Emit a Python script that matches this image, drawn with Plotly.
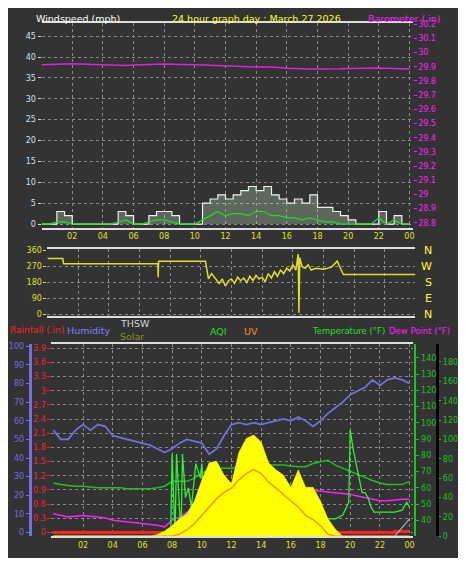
import plotly.graph_objects as go

# page body has an 8px margin; figure is sized to fit the 466x566 window
OFF = 8
W, H = 466 - 2 * OFF, 566 - 2 * OFF
def px(x): return (x - OFF) / W
def py(y): return 1 - (y - OFF) / H

hours = [i / 2 for i in range(49)]
hour_ticks = [2, 4, 6, 8, 10, 12, 14, 16, 18, 20, 22, 24]
hour_labels = ["02", "04", "06", "08", "10", "12", "14", "16", "18", "20", "22", "00"]

# --- top panel ---
wind_gust = [0, 0, 3, 2, 0, 0, 0, 0, 0, 0, 3, 2, 0, 0, 2, 3, 3, 2, 0, 0, 0, 5, 6, 7, 6, 7, 8, 9, 8, 9,
             7, 6, 5, 6, 5, 7, 4, 4, 3, 2, 1, 0, 0, 0, 3, 0, 2, 0, 0]
wind_avg = [0, 0, 0.5, 0.5, 0, 0, 0, 0, 0, 0, 0.5, 1, 0, 0, 0.5, 1, 1, 0.5, 0, 0, 0, 1, 2, 3, 2, 2.5, 2.5, 2, 3, 3,
            2, 2, 1.5, 1.5, 1, 1.5, 1, 0.5, 0.5, 0, 0, 0, 0, 0, 1.5, 0, 1, 0, 0]
barometer = [29.915, 29.917, 29.92, 29.92, 29.922, 29.92, 29.918, 29.915, 29.912, 29.91, 29.908, 29.91, 29.912,
             29.915, 29.918, 29.92, 29.92, 29.918, 29.918, 29.917, 29.915, 29.912, 29.91, 29.908, 29.905,
             29.902, 29.9, 29.898, 29.898, 29.9, 29.9, 29.895, 29.89, 29.887, 29.885, 29.885, 29.885, 29.884,
             29.885, 29.886, 29.888, 29.89, 29.892, 29.893, 29.892, 29.89, 29.888, 29.886, 29.885]

# --- direction panel ---
dir_hours = [0, 1, 1.05, 7.2, 7.22, 7.25, 10.3, 10.5, 10.7, 11, 11.2, 11.4, 11.6, 11.8, 12, 12.2, 12.4, 12.6,
             12.8, 13, 13.2, 13.4, 13.6, 13.8, 14, 14.2, 14.4, 14.6, 14.8, 15, 15.2, 15.4, 15.6, 15.8, 16,
             16.2, 16.35, 16.4, 16.45, 16.6, 16.8, 17, 17.2, 17.5, 18, 18.5, 18.9, 19.1, 19.3, 24]
direction = [315, 315, 285, 285, 210, 300, 300, 200, 230, 195, 175, 200, 160, 190, 200, 175, 210, 190, 205,
             180, 215, 190, 220, 200, 210, 185, 230, 205, 240, 215, 250, 230, 260, 245, 280, 250, 340, 10,
             320, 270, 260, 280, 250, 260, 255, 265, 300, 260, 225, 225]

# --- bottom panel ---
humidity = [55, 50, 50, 55, 58, 55, 58, 57, 52, 51, 50, 49, 48, 47, 45, 43, 45, 48, 50, 49, 48, 42, 45, 52, 58,
            59, 58, 59, 58, 59, 60, 61, 60, 62, 60, 57, 60, 64, 67, 70, 74, 76, 78, 82, 79, 82, 83, 82, 80]
temperature = [63, 62, 61.5, 61, 61, 60.5, 60, 60, 60, 60, 59.5, 59.5, 59.5, 59.5, 60, 61, 64, 64, 64, 66, 69, 71,
               72, 72, 72, 72.5, 73, 73.5, 74, 74, 74, 74, 73.5, 73, 73, 75, 76, 77, 74, 72, 70, 68, 66, 64.5, 63,
               62, 62, 62, 64]
dew_point = [44, 43, 42, 42.5, 43, 42.5, 42, 41.5, 40, 39.5, 39, 38.5, 38, 37.5, 37, 36, 40, 42, 45, 46, 47, 45,
             48, 50, 52, 53, 54, 54.5, 55, 55.5, 56, 56.5, 57, 57.5, 58, 58, 58, 57.5, 57, 56.5, 56, 55, 54, 53,
             52, 52, 52.5, 53, 53]
solar = [0, 0, 0, 0, 0, 0, 0, 0, 0, 0, 0, 0, 0, 0, 10, 30, 60, 100, 130, 200, 320, 420, 430, 350, 300, 480, 560,
         580, 540, 420, 380, 350, 280, 380, 280, 280, 200, 100, 40, 0, 0, 0, 0, 0, 0, 0, 0, 0, 0]
uv = [0, 0, 0, 0, 0, 0, 0, 0, 0, 0, 0, 0, 0, 0, 0, 0, 0, 0.1, 0.3, 0.6, 1.0, 1.4, 1.8, 2.1, 2.3, 2.7, 3.0, 3.2, 3.0,
      2.6, 2.3, 2.0, 1.7, 1.4, 1.0, 0.8, 0.5, 0.1, 0, 0, 0, 0, 0, 0, 0, 0, 0, 0, 0]
aqi_hours = [0, 7.9, 8.0, 8.2, 8.3, 8.6, 8.7, 8.9, 9.1, 9.3, 9.6, 9.9, 10.0, 10.3, 10.5, 11.0, 11.3, 11.6, 12.0,
             12.5, 13.0, 13.5, 14.0, 14.5, 15.0, 15.5, 16.0, 16.5, 17.0, 17.5, 18.0, 18.5, 19.0, 19.5, 19.9,
             20.0, 20.2, 20.4, 20.6, 20.8, 21.0, 21.2, 21.4, 21.6, 22.0, 22.5, 23.0, 23.5, 23.8, 24.0]
aqi = [0, 0, 85, 0, 85, 0, 85, 40, 50, 30, 75, 60, 75, 0, 0, 0, 10, 20, 40, 42, 45, 50, 62, 58, 40, 33, 30, 27,
       25, 22, 20, 18, 18, 22, 35, 110, 90, 75, 60, 45, 45, 40, 30, 25, 25, 25, 25, 27, 35, 30]
thsw_hours = [0, 23, 24]
thsw = [0, 0, 18]
rain_hours = [0, 23, 23, 24]
rain = [0, 0, 0.02, 0.02]

BG = "#333333"
GRID = "#8a8a8a"
F = "DejaVu Sans"

fig = go.Figure()
fig.add_trace(go.Scatter(x=hours, y=wind_gust, xaxis="x", yaxis="y", mode="lines", line=dict(color="#f0f0f0", width=1.2, shape="hv"),
                         fill="tozeroy", fillcolor="rgba(190,230,190,0.3)"))
fig.add_trace(go.Scatter(x=hours, y=wind_avg, xaxis="x", yaxis="y", mode="lines", line=dict(color="#22dd22", width=1.2)))
fig.add_trace(go.Scatter(x=hours, y=barometer, xaxis="x", yaxis="y2", mode="lines", line=dict(color="#e020e0", width=1.5)))
fig.add_trace(go.Scatter(x=dir_hours, y=direction, xaxis="x2", yaxis="y3", mode="lines", line=dict(color="#e0e020", width=1.5)))
fig.add_trace(go.Scatter(x=hours, y=solar, xaxis="x3", yaxis="y8", mode="lines", line=dict(color="#ffff20", width=0.5),
                         fill="tozeroy", fillcolor="#ffff00"))
fig.add_trace(go.Scatter(x=hours, y=uv, xaxis="x3", yaxis="y9", mode="lines", line=dict(color="#ff9020", width=1.5)))
fig.add_trace(go.Scatter(x=hours, y=humidity, xaxis="x3", yaxis="y4", mode="lines", line=dict(color="#7070e0", width=1.8)))
fig.add_trace(go.Scatter(x=hours, y=temperature, xaxis="x3", yaxis="y6", mode="lines", line=dict(color="#20c020", width=1.5)))
fig.add_trace(go.Scatter(x=hours, y=dew_point, xaxis="x3", yaxis="y6", mode="lines", line=dict(color="#ff20ff", width=1.5)))
fig.add_trace(go.Scatter(x=aqi_hours, y=aqi, xaxis="x3", yaxis="y7", mode="lines", line=dict(color="#30f030", width=1.3)))
fig.add_trace(go.Scatter(x=thsw_hours, y=thsw, xaxis="x3", yaxis="y7", mode="lines", line=dict(color="#b0b0b0", width=1.2)))
fig.add_trace(go.Scatter(x=rain_hours, y=rain, xaxis="x3", yaxis="y5", mode="lines", line=dict(color="#ff2020", width=3)))

tf = dict(family=F, size=8)
common_x = dict(tickvals=hour_ticks, ticktext=hour_labels, showgrid=True, gridcolor=GRID, griddash="dot",
                zeroline=False, tickfont=dict(tf, color="#e0e020"), ticks="", showline=True, linecolor="#dddddd", linewidth=2, mirror=True)
common_y = dict(zeroline=False, ticks="outside", ticklen=3, tickwidth=1)

fig.update_layout(
    width=W, height=H, paper_bgcolor=BG, plot_bgcolor=BG, showlegend=False,
    margin=dict(l=0, r=0, t=0, b=0),
    xaxis=dict(common_x, domain=[px(42), px(418)], range=[0, 24.2], anchor="y"),
    yaxis=dict(common_y, domain=[py(228), py(20)], range=[-0.9, 48.2], dtick=5, showgrid=True, gridcolor=GRID, griddash="dot",
               tickfont=dict(tf, color="#c8e0f8"), tickcolor="#c8e0f8", anchor="x"),
    yaxis2=dict(common_y, overlaying="y", side="right", range=[28.765, 30.21],
                tickvals=[28.8, 28.9, 29, 29.1, 29.2, 29.3, 29.4, 29.5, 29.6, 29.7, 29.8, 29.9, 30, 30.1, 30.2],
                ticktext=["28.8", "28.9", "29", "29.1", "29.2", "29.3", "29.4", "29.5", "29.6", "29.7", "29.8", "29.9", "30", "30.1", "30.2"],
                showgrid=False, tickfont=dict(tf, color="#ff20ff"), tickcolor="#ff20ff", anchor="x"),
    xaxis2=dict(common_x, domain=[px(48), px(421)], range=[0, 24], anchor="y3", showticklabels=False),
    yaxis3=dict(common_y, domain=[py(318), py(250)], range=[-11, 365.5], tickvals=[0, 90, 180, 270, 360],
                showgrid=True, gridcolor=GRID, griddash="dot", tickfont=dict(tf, color="#e0e020"), tickcolor="#e0e020", anchor="x2"),
    xaxis3=dict(common_x, domain=[px(52), px(418)], range=[-0.13, 24.2], anchor="y5"),
    yaxis5=dict(common_y, domain=[py(541), py(346)], range=[-0.08, 3.99],
                tickvals=[0, 0.3, 0.6, 0.9, 1.2, 1.5, 1.8, 2.1, 2.4, 2.7, 3, 3.3, 3.6, 3.9],
                ticktext=["0", "0.3", "0.6", "0.9", "1.2", "1.5", "1.8", "2.1", "2.4", "2.7", "3", "3.3", "3.6", "3.9"],
                showgrid=True, gridcolor=GRID, griddash="dot", tickfont=dict(tf, color="#ff2020"), tickcolor="#ff2020", anchor="x3"),
    yaxis4=dict(common_y, overlaying="y5", anchor="free", position=px(30), side="left", range=[-2, 101.2], dtick=10,
                showgrid=False, showline=True, linecolor="#7070e0", linewidth=3,
                tickfont=dict(tf, color="#7070e0"), tickcolor="#7070e0"),
    yaxis6=dict(common_y, overlaying="y5", anchor="free", position=px(421), side="right", range=[30.2, 148.5],
                tickvals=[40, 50, 60, 70, 80, 90, 100, 110, 120, 130, 140], showgrid=False, showline=True,
                linecolor="#20c020", linewidth=2, tickfont=dict(tf, color="#20c020"), tickcolor="#20c020"),
    yaxis7=dict(common_y, overlaying="y5", anchor="free", position=px(443), side="right", range=[0, 198.5],
                dtick=20, showgrid=False, showline=True, linecolor="#000000", linewidth=3, ticklen=2,
                tickfont=dict(family=F, size=8, color="#20c020"), tickcolor="#20c020"),
    yaxis8=dict(overlaying="y5", range=[0, 1100], visible=False),
    yaxis9=dict(overlaying="y5", range=[0, 9.2], visible=False),
)

def ann(text, x, y, color, size=10, xanchor="left", yanchor="middle", xref="paper", yref="paper"):
    fig.add_annotation(text=text, x=x, y=y, xref=xref, yref=yref, showarrow=False, xanchor=xanchor,
                       yanchor=yanchor, font=dict(family=F, size=size, color=color))

ann("Windspeed (mph)", px(34), 1, "#ffffff", size=9.5, yanchor="top")
ann("24 hour graph day : March 27 2026", px(172), 1, "#ffff20", size=9.5, yanchor="top")
ann("Barometer (.in)", px(371), 1, "#ff20ff", size=9.5, yanchor="top")
for lbl, v in zip(["N", "W", "S", "E", "N"], [360, 270, 180, 90, 0]):
    fig.add_annotation(text=lbl, x=px(440), y=v, xref="paper", yref="y3", showarrow=False,
                       font=dict(family=F, size=11, color="#ffff20"))
ann("Rainfall (.in)", px(8), py(332), "#ff2020", size=9)
ann("Humidity", px(66), py(332), "#8080ff", size=9.5)
ann("THSW", px(119), py(325), "#d8d8d8", size=9.5)
ann("Solar", px(119), py(338), "#909020", size=9.5)
ann("AQI", px(211), py(333), "#20e020", size=9.5)
ann("UV", px(245), py(333), "#ff9020", size=9.5)
ann("Temperature (°F)", px(392), py(333), "#20e020", size=8.5, xanchor="right")
ann("Dew Point (°F)", px(458), py(333), "#ff20ff", size=8.5, xanchor="right")

fig.write_html("out.html")
